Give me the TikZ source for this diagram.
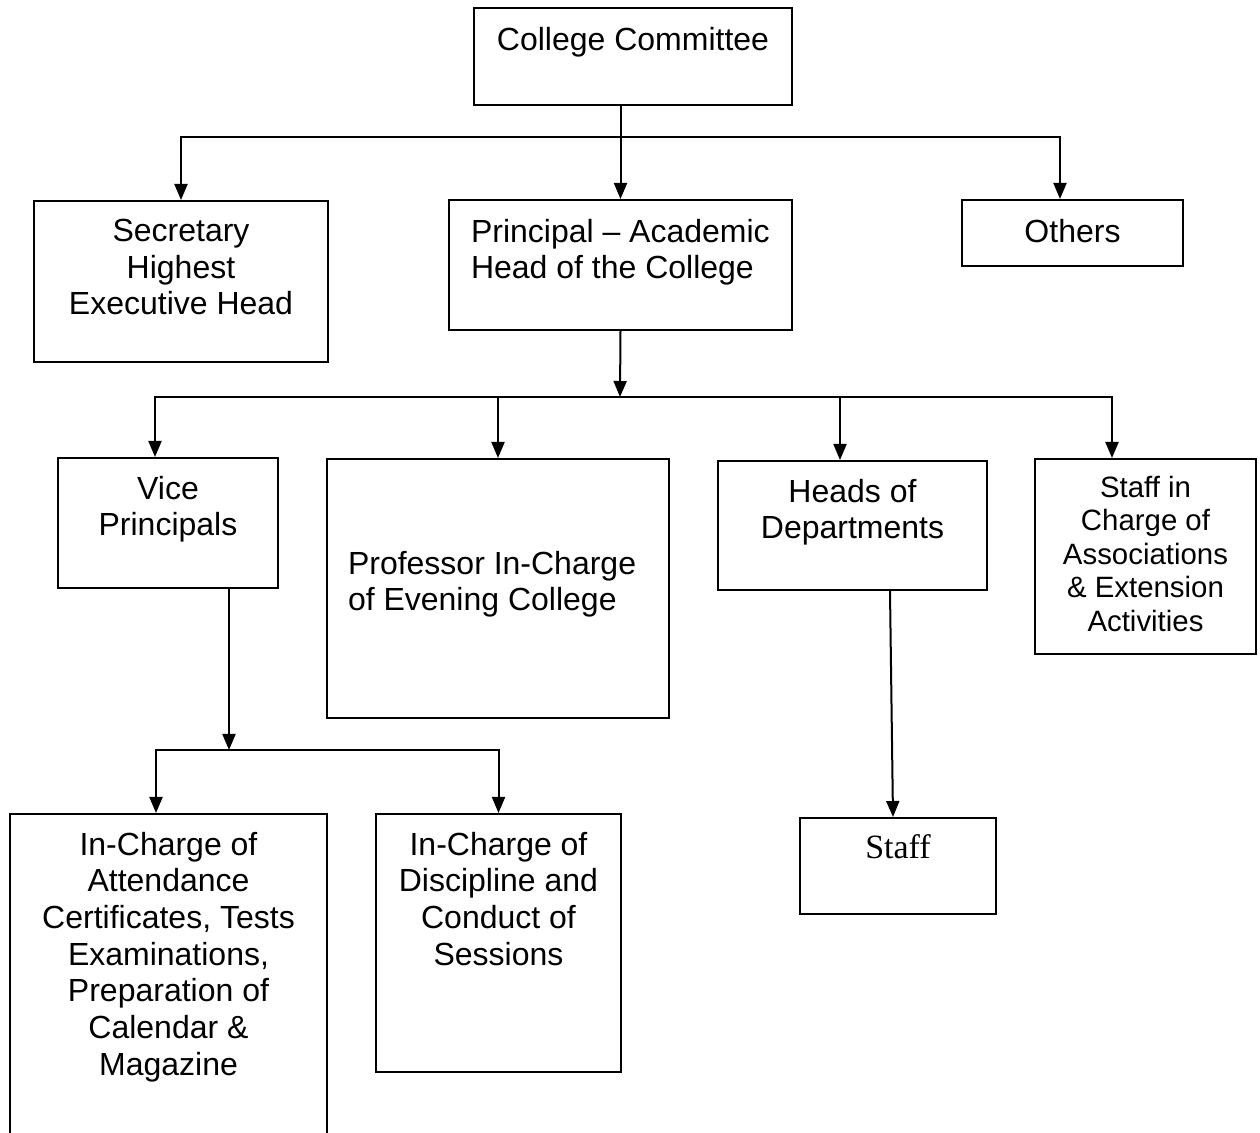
\documentclass[tikz,border=0pt]{standalone}
\usepackage{fontspec}
\setmainfont{Liberation Sans}
\newfontfamily\timesface{Liberation Serif}
\usepackage{tikz}
\usetikzlibrary{positioning,arrows.meta}

\begin{document}
\begin{tikzpicture}[x=0.5pt,y=-0.5pt,line width=1pt,
    >={Triangle[width=6.5pt,length=8pt]},
    orgbox/.style={draw,rectangle,inner sep=0pt},
    boxtext/.style={anchor=north,align=center,inner sep=0pt,font=\fontsize{16}{18.35}\selectfont},
    lefttext/.style={boxtext,anchor=north west,align=left},
    smalltext/.style={boxtext,font=\fontsize{14.7}{16.75}\selectfont}]

    \useasboundingbox (0,0) rectangle (1260,1133);
    \clip (0,0) rectangle (1260,1133);

    % boxes
    \node[orgbox, minimum width=159pt, minimum height=48.5pt] (committee) at (633,56.5) {};
    \node[orgbox, minimum width=147pt, minimum height=80.5pt] (secretary) at (181,281.5) {};
    \node[orgbox, minimum width=171.5pt, minimum height=65pt] (principal) at (620.5,265) {};
    \node[orgbox, minimum width=110.5pt, minimum height=33pt] (others) at (1072.5,233) {};

    \node[orgbox, minimum width=110pt, minimum height=65pt] (vice) at (168,523) {};
    \node[orgbox, minimum width=171pt, minimum height=129.5pt] (prof) at (498,588.5) {};
    \node[orgbox, minimum width=134.5pt, minimum height=64.5pt] (heads) at (852.5,525.5) {};
    \node[orgbox, minimum width=110.5pt, minimum height=97.5pt] (staffinc) at (1145.5,556.5) {};

    \node[orgbox, minimum width=158.5pt, minimum height=173pt] (attendance) at (168.5,987) {};
    \node[orgbox, minimum width=122.5pt, minimum height=129pt] (discipline) at (498.5,943) {};
    \node[orgbox, minimum width=98pt, minimum height=48pt] (staff) at (898,866) {};

    % texts
    \node[boxtext, below=9.5pt of committee.north] (committeetext) {College Committee};
    \node[boxtext, below=9pt of secretary.north] (secretarytext) {Secretary\\Highest\\Executive Head};
    \node[lefttext, below right=9.5pt and 11pt of principal.north west] (principaltext) {Principal – Academic\\Head of the College};
    \node[boxtext, below=9.5pt of others.north] (otherstext) {Others};

    \node[boxtext, below=9pt of vice.north] (vicetext) {Vice\\Principals};
    \node[lefttext, below right=46pt and 10.5pt of prof.north west] (proftext) {Professor In-Charge\\of Evening College};
    \node[boxtext, below=9pt of heads.north] (headstext) {Heads of\\Departments};
    \node[smalltext, below=8.5pt of staffinc.north] (staffinctext) {Staff in\\Charge of\\Associations\\\& Extension\\Activities};

    \node[boxtext, below=9pt of attendance.north] (attendancetext) {In-Charge of\\Attendance\\Certificates, Tests\\Examinations,\\Preparation of\\Calendar \&\\Magazine};
    \node[boxtext, below=9pt of discipline.north] (disciplinetext) {In-Charge of\\Discipline and\\Conduct of\\Sessions};
    \node[boxtext, below=8.5pt of staff.north, font=\timesface\fontsize{17}{19}\selectfont] (stafftext) {Staff};

    % connectors
    \coordinate (top bus) at (620,137);
    \draw[->] (principal.north |- committee.south) -- (principal.north);
    \draw[->] (top bus) -| (secretary.north);
    \draw[->] (top bus) -| ([xshift=-6.25pt]others.north);

    \coordinate (mid bus) at (620,397);
    \draw[->] (principal.south) -- (mid bus);
    \draw[->] (mid bus) -| ([xshift=-6.5pt]vice.north);
    \draw[->] (mid bus) -| (prof.north);
    \draw[->] (mid bus) -| ([xshift=-6.25pt]heads.north);
    \draw[->] (mid bus) -| ([xshift=-16.75pt]staffinc.north);

    \coordinate (low bus) at (229,750);
    \draw[->] ([xshift=30.5pt]vice.south) -- (low bus);
    \draw[->] (low bus) -| ([xshift=-6.25pt]attendance.north);
    \draw[->] (low bus) -| (discipline.north);

    \draw[->] ([xshift=18.75pt]heads.south) -- ([xshift=-2.5pt]staff.north);
\end{tikzpicture}
\end{document}
